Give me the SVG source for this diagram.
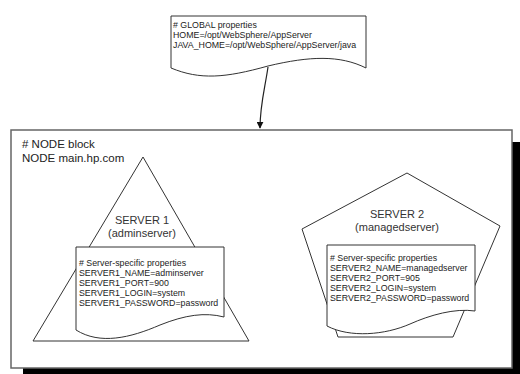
<svg xmlns="http://www.w3.org/2000/svg" width="520" height="374" viewBox="0 0 520 374">
<defs>
<style>
.shape{fill:#fff;stroke:#333;stroke-width:1}
.t{font-family:"Liberation Sans",Arial,sans-serif;font-size:8.8px;fill:#222}
.big{font-family:"Liberation Sans",Arial,sans-serif;font-size:11px;fill:#333}
.node{font-family:"Liberation Sans",Arial,sans-serif;font-size:11.5px;fill:#222}
.conn{fill:none;stroke:#222;stroke-width:1.2}
</style>
<marker id="arr" viewBox="0 0 10 10" refX="9" refY="5" markerWidth="7" markerHeight="7" markerUnits="userSpaceOnUse" orient="auto">
<path d="M0,0 L10,5 L0,10 Z" fill="#111"/>
</marker>
</defs>
<rect width="520" height="374" fill="#fff"/>
<g id="node-block">
<rect x="23" y="142" width="501" height="238" fill="#000"/>
<rect x="11" y="130" width="501" height="238" fill="#fff" stroke="#666" stroke-width="1.5"/>
<text class="node" x="22" y="148">#<tspan> NODE block</tspan></text>
<text class="node" x="22" y="162">NODE main.hp.com</text>
</g>
<g id="global">
<path class="shape" d="M171,16 H366 V68 C340,55 310,56 268,66 C225,78 200,80 171,68 Z"/>
<text class="t" x="173" y="28">#<tspan> GLOBAL properties</tspan></text>
<text class="t" x="173" y="38">HOME=/opt/WebSphere/AppServer</text>
<text class="t" x="173" y="48">JAVA_HOME=/opt/WebSphere/AppServer/java</text>
</g>
<g id="server1">
<path class="shape" d="M143,157 L249,341 L33,341 Z"/>
<text class="big" x="142" y="224" text-anchor="middle">SERVER 1</text>
<text class="big" x="142" y="237" text-anchor="middle">(adminserver)</text>
<path class="shape" d="M76,247 H224 V317 C205,312 185,315 160,325 C130,338 100,345 76,330 Z"/>
<text class="t" x="79" y="266">#<tspan> Server-specific properties</tspan></text>
<text class="t" x="79" y="276">SERVER1_NAME=adminserver</text>
<text class="t" x="79" y="286">SERVER1_PORT=900</text>
<text class="t" x="79" y="296">SERVER1_LOGIN=system</text>
<text class="t" x="79" y="306">SERVER1_PASSWORD=password</text>
</g>
<g id="server2">
<path class="shape" d="M407,173 L500,226 L453,337 L338,337 L302,229 Z"/>
<text class="big" x="397" y="218" text-anchor="middle">SERVER 2</text>
<text class="big" x="397" y="231" text-anchor="middle">(managedserver)</text>
<path class="shape" d="M327,245 H475 V311 C455,308 430,315 410,324 C385,335 350,338 327,326 Z"/>
<text class="t" x="330" y="261">#<tspan> Server-specific properties</tspan></text>
<text class="t" x="330" y="271">SERVER2_NAME=managedserver</text>
<text class="t" x="330" y="281">SERVER2_PORT=905</text>
<text class="t" x="330" y="291">SERVER2_LOGIN=system</text>
<text class="t" x="330" y="301">SERVER2_PASSWORD=password</text>
</g>
<g id="connectors">
<path class="conn" d="M268,67 C265,88 260,105 260,128" marker-end="url(#arr)"/>
</g>
</svg>
